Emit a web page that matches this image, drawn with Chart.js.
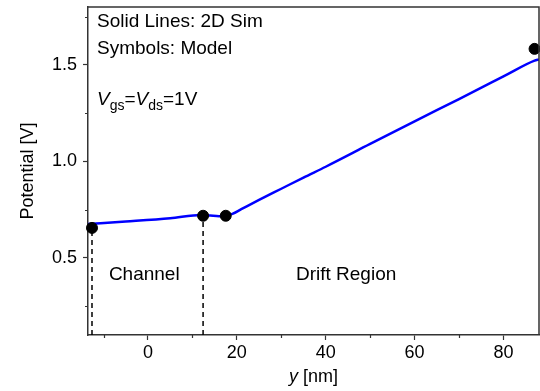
<!DOCTYPE html>
<html>
<head>
<meta charset="utf-8">
<script src="https://cdn.jsdelivr.net/npm/chart.js@4"></script>
<style>
  html, body { margin: 0; padding: 0; background: #fff; }
  #wrap { position: relative; width: 540px; height: 391px; }
</style>
</head>
<body>
<div id="wrap"><canvas id="chart"></canvas></div>
<script>
// 2D simulation (solid line)
const simX = [-13.5, -5, 5, 12, 14, 16, 17.5, 19, 21, 25, 30, 35, 40, 50, 60, 70, 80, 87, 88];
const simY = [0.675, 0.688, 0.705, 0.722, 0.719, 0.716, 0.718, 0.728, 0.752, 0.8, 0.858, 0.916, 0.972, 1.09, 1.207, 1.323, 1.44, 1.522, 1.528];

// model (symbols)
const modelX = [-12.6, 12.4, 17.5, 87];
const modelY = [0.655, 0.718, 0.718, 1.583];

// region boundaries (dashed)
const boundaryX = [-12.6, 12.4];
const boundaryTop = [0.655, 0.718];

const xMajor = [0, 20, 40, 60, 80];
const xMinor = [-10, 10, 30, 50, 70];
const yMajor = [0.5, 1.0, 1.5];
const yMinor = [0.25, 0.75, 1.25, 1.75];

const xRange = [-13.5, 88];
const yRange = [0.1, 1.8];

const FONT = '"Liberation Sans", Arial, sans-serif';
const AXIS = '#333';

const toPoints = (xs, ys) => xs.map((x, i) => ({ x, y: ys[i] }));

const boundarySets = boundaryX.map((x, i) => ({
  type: 'line',
  data: [{ x, y: yRange[0] }, { x, y: boundaryTop[i] }],
  borderColor: '#000',
  borderWidth: 1.5,
  borderDash: [5, 4],
  pointRadius: 0,
  order: 3
}));

const framePlugin = {
  id: 'frame',
  afterDraw(chart) {
    const { ctx, chartArea: a, scales: { x, y } } = chart;
    ctx.save();
    ctx.strokeStyle = AXIS;
    ctx.lineWidth = 1.5;
    ctx.beginPath();
    ctx.moveTo(a.left, a.top);
    ctx.lineTo(a.right, a.top);
    ctx.lineTo(a.right, a.bottom);
    ctx.stroke();

    // minor ticks
    ctx.lineWidth = 1.2;
    ctx.beginPath();
    xMinor.forEach(v => {
      const px = Math.round(x.getPixelForValue(v)) + 0.5;
      ctx.moveTo(px, a.bottom);
      ctx.lineTo(px, a.bottom + 3);
    });
    yMinor.forEach(v => {
      const py = Math.round(y.getPixelForValue(v)) + 0.5;
      ctx.moveTo(a.left, py);
      ctx.lineTo(a.left - 3, py);
    });
    ctx.stroke();

    // annotations
    ctx.fillStyle = '#000';
    ctx.textBaseline = 'alphabetic';
    ctx.textAlign = 'left';
    ctx.font = `19px ${FONT}`;
    ctx.fillText('Solid Lines: 2D Sim', a.left + 9, 27);
    ctx.fillText('Symbols: Model', a.left + 9, 54);
    ctx.fillText('Channel', x.getPixelForValue(-8.8), 280);
    ctx.fillText('Drift Region', x.getPixelForValue(33.3), 280);

    // V_gs = V_ds = 1V
    let cx = a.left + 9;
    const by = 105;
    const put = (txt, font, dy) => {
      ctx.font = font;
      ctx.fillText(txt, cx, by + dy);
      cx += ctx.measureText(txt).width;
    };
    put('V', `italic 19px ${FONT}`, 0);
    put('gs', `14px ${FONT}`, 5);
    put('=', `19px ${FONT}`, 0);
    put('V', `italic 19px ${FONT}`, 0);
    put('ds', `14px ${FONT}`, 5);
    put('=1V', `19px ${FONT}`, 0);

    // x axis title
    ctx.font = `italic 18px ${FONT}`;
    const w1 = ctx.measureText('y').width;
    ctx.font = `18px ${FONT}`;
    const w2 = ctx.measureText(' [nm]').width;
    const tx = (a.left + a.right) / 2 - (w1 + w2) / 2;
    ctx.font = `italic 18px ${FONT}`;
    ctx.fillText('y', tx, 382);
    ctx.font = `18px ${FONT}`;
    ctx.fillText(' [nm]', tx + w1, 382);
    ctx.restore();
  }
};

new Chart(document.getElementById('chart'), {
  type: 'line',
  data: {
    datasets: [
      {
        label: '2D Sim',
        data: toPoints(simX, simY),
        borderColor: '#0000ff',
        borderWidth: 2.5,
        pointRadius: 0,
        cubicInterpolationMode: 'monotone',
        order: 2
      },
      {
        type: 'scatter',
        label: 'Model',
        data: toPoints(modelX, modelY),
        backgroundColor: '#000',
        borderColor: '#000',
        pointRadius: 5.5,
        clip: false,
        order: 1
      },
      ...boundarySets
    ]
  },
  options: {
    responsive: true,
    maintainAspectRatio: false,
    animation: false,
    layout: { autoPadding: false, padding: { top: 7, right: 1, left: 0, bottom: 0 } },
    plugins: {
      legend: { display: false },
      tooltip: { enabled: false }
    },
    scales: {
      x: {
        type: 'linear',
        min: xRange[0],
        max: xRange[1],
        afterBuildTicks: scale => { scale.ticks = xMajor.map(value => ({ value })); },
        afterFit: scale => {
          scale.height = 56;
          scale.paddingLeft = 0;
          scale.paddingRight = 0;
        },
        border: { display: true, color: AXIS, width: 1.5 },
        grid: { drawOnChartArea: false, drawTicks: true, tickLength: 5, color: AXIS, tickWidth: 1.2 },
        ticks: {
          padding: 2,
          color: '#000',
          font: { family: FONT, size: 18 },
          maxRotation: 0,
          callback: v => String(v)
        }
      },
      y: {
        type: 'linear',
        min: yRange[0],
        max: yRange[1],
        afterBuildTicks: scale => { scale.ticks = yMajor.map(value => ({ value })); },
        afterFit: scale => {
          scale.width = 88;
          scale.paddingTop = 0;
          scale.paddingBottom = 0;
        },
        border: { display: true, color: AXIS, width: 1.5 },
        grid: { drawOnChartArea: false, drawTicks: true, tickLength: 5, color: AXIS, tickWidth: 1.2 },
        ticks: {
          padding: 6,
          color: '#000',
          font: { family: FONT, size: 18 },
          callback: v => Number(v).toFixed(1)
        },
        title: {
          display: true,
          text: 'Potential [V]',
          color: '#000',
          font: { family: FONT, size: 18 },
          padding: { top: 17, bottom: 0 }
        }
      }
    }
  },
  plugins: [framePlugin]
});
</script>
</body>
</html>
